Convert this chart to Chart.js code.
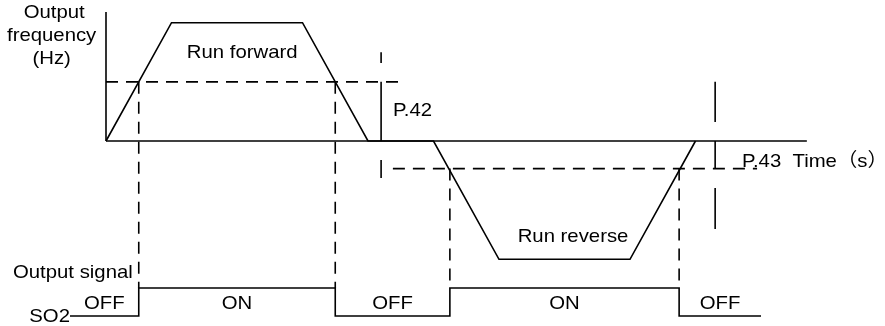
<!DOCTYPE html>
<html>
<head>
<meta charset="utf-8">
<script src="https://cdn.jsdelivr.net/npm/chart.js@4/dist/chart.umd.min.js"></script>
<style>
  body { margin: 0; background: #fff; }
  #wrap { width: 885px; height: 326px; }
</style>
</head>
<body>
<div id="wrap"><canvas id="diagram" width="885" height="326"></canvas></div>
<script>
// output frequency profile (time in s, frequency in Hz)
const times = [0, 10, 30, 40, 50, 60, 80, 90];
const frequency = [0, 60, 60, 0, 0, -60, -60, 0];

// detection levels
const p42Level = 30;
const p43Level = -14;
const p42Span = [0, 44.6];
const p43Span = [43.8, 99.4];

// marker lines next to the levels
const p42MarkTime = 42;
const p42MarkSegments = [[45, 39.5], [30, 0], [-9.6, -18.8]];
const p43MarkTime = 93;
const p43MarkSegments = [[30, 9.6], [0, -14], [-23.8, -44.6]];

// axis extent
const axisTop = 65.4;
const axisEnd = 107;

// SO2 output signal
const signalTimes = [-5.5, 5, 35, 52.5, 87.5, 100];
const signalLevels = [0, 1, 0, 1, 0, 0];
const signalStates = ["OFF", "ON", "OFF", "ON", "OFF"];

// layout of the drawing (pixels)
const ORIGIN_X = 106, PX_PER_S = 6.55;
const ZERO_Y = 141, PX_PER_HZ = 1.972;
const SIG_LOW_Y = 316, PX_PER_LEVEL = 28;
const W = 885, H = 326;

const FONT = '19px "Liberation Sans", Arial, "Noto Sans CJK SC", sans-serif';
const STRETCH = 1.07;
const INK = "#000";

function segmentPoints(t, segments) {
  const pts = [];
  segments.forEach((s, i) => {
    if (i > 0) pts.push({ x: t, y: null });
    pts.push({ x: t, y: s[0] }, { x: t, y: s[1] });
  });
  return pts;
}

function lineSet(data, extra) {
  return Object.assign({
    data: data,
    showLine: true,
    borderColor: INK,
    borderWidth: 1.6,
    pointRadius: 0,
    spanGaps: false,
    yAxisID: "y",
  }, extra || {});
}

function drawText(ctx, text, x, y, align) {
  ctx.save();
  ctx.translate(x, y);
  ctx.scale(STRETCH, 1);
  ctx.font = FONT;
  ctx.fillStyle = INK;
  ctx.textAlign = align || "center";
  ctx.textBaseline = "middle";
  ctx.fillText(text, 0, 0);
  ctx.restore();
}

// pixel row -> Hz, only for placing the y axis title lines
function charY(row) {
  return (ZERO_Y - row) / PX_PER_HZ;
}

const diagramExtras = {
  id: "diagramExtras",
  afterDatasetsDraw(chart) {
    const ctx = chart.ctx;
    const xs = chart.scales.x, ys = chart.scales.y, ss = chart.scales.sig;
    const px = (t) => xs.getPixelForValue(t);
    const py = (f) => ys.getPixelForValue(f);
    const ps = (l) => ss.getPixelForValue(l);

    // dashed guides from the level crossings down to the signal
    ctx.save();
    ctx.strokeStyle = INK;
    ctx.lineWidth = 1.6;
    ctx.setLineDash([12, 8]);
    for (let i = 1; i <= 4; i++) {
      const level = i <= 2 ? p42Level : p43Level;
      ctx.beginPath();
      ctx.moveTo(px(signalTimes[i]), py(level));
      ctx.lineTo(px(signalTimes[i]), ps(1));
      ctx.stroke();
    }
    ctx.restore();

    // texts
    drawText(ctx, "Output", px(-7.9), py(charY(13)));
    drawText(ctx, "frequency", px(-8.3), py(charY(36)));
    drawText(ctx, "(Hz)", px(-8.3), py(charY(59)));
    drawText(ctx, "Run forward", px(20.8), py(44.6));
    drawText(ctx, "P.42", px(43.8), py(15.2), "left");
    drawText(ctx, "P.43  Time（s）", px(97.1), py(-10.6), "left");
    drawText(ctx, "Run reverse", px(71.3), py(-48.7));
    drawText(ctx, "Output signal", px(-14.2), ps(1.54), "left");
    drawText(ctx, "SO2", px(signalTimes[0]), ps(-0.03), "right");
    for (let i = 0; i < signalStates.length; i++) {
      const mid = (signalTimes[i] + signalTimes[i + 1]) / 2;
      drawText(ctx, signalStates[i], px(mid), ps(0.45));
    }
  },
};

new Chart(document.getElementById("diagram"), {
  type: "scatter",
  data: {
    datasets: [
      lineSet([{ x: 0, y: 0 }, { x: 0, y: axisTop }]),
      lineSet([{ x: 0, y: 0 }, { x: axisEnd, y: 0 }]),
      lineSet(times.map((t, i) => ({ x: t, y: frequency[i] }))),
      lineSet([{ x: p42Span[0], y: p42Level }, { x: p42Span[1], y: p42Level }], { borderDash: [12, 8] }),
      lineSet([{ x: p43Span[0], y: p43Level }, { x: p43Span[1], y: p43Level }], { borderDash: [12, 8] }),
      lineSet(segmentPoints(p42MarkTime, p42MarkSegments)),
      lineSet(segmentPoints(p43MarkTime, p43MarkSegments)),
      lineSet(signalTimes.map((t, i) => ({ x: t, y: signalLevels[i] })), { yAxisID: "sig", stepped: "before" }),
    ],
  },
  options: {
    responsive: false,
    animation: false,
    layout: { padding: 0 },
    plugins: { legend: { display: false }, tooltip: { enabled: false } },
    scales: {
      x: { type: "linear", display: false, min: -ORIGIN_X / PX_PER_S, max: (W - ORIGIN_X) / PX_PER_S },
      y: { type: "linear", display: false, min: -(H - ZERO_Y) / PX_PER_HZ, max: ZERO_Y / PX_PER_HZ },
      sig: { type: "linear", display: false, min: -(H - SIG_LOW_Y) / PX_PER_LEVEL, max: SIG_LOW_Y / PX_PER_LEVEL },
    },
  },
  plugins: [diagramExtras],
});
</script>
</body>
</html>
